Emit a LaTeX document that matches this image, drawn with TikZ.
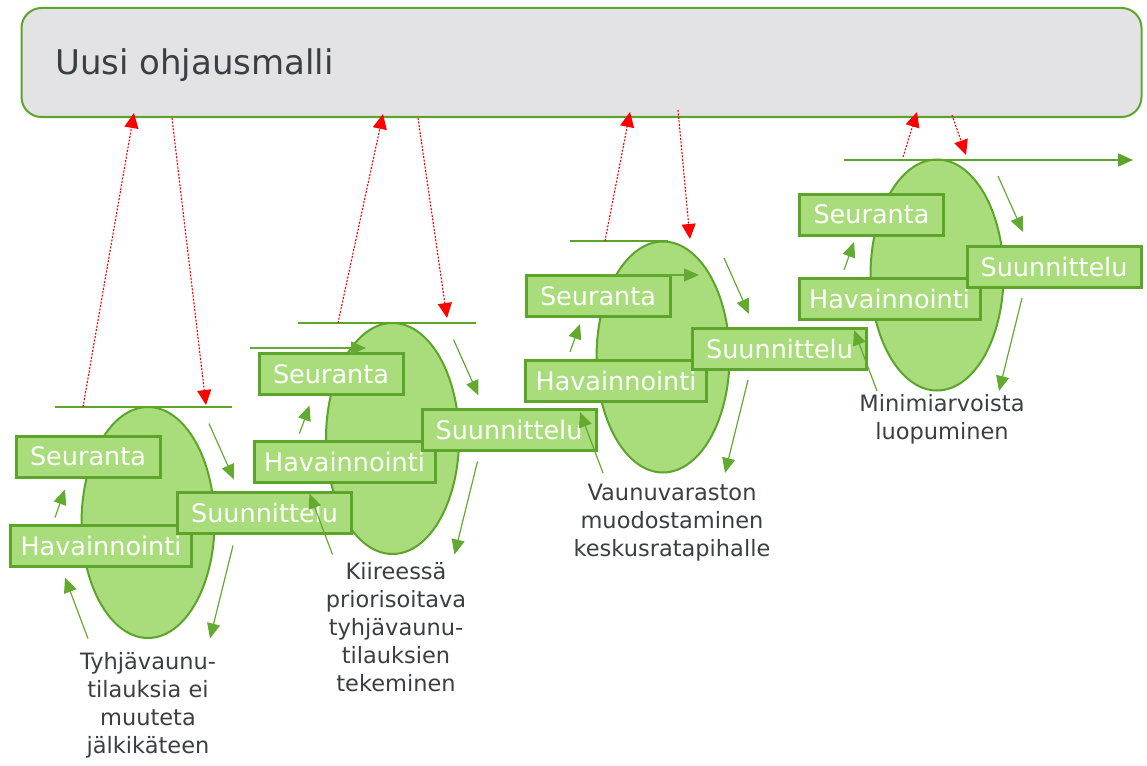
\documentclass[tikz,border=0pt]{standalone}
\usepackage{fontspec}
\setmainfont{DejaVu Sans}
\usetikzlibrary{shapes.geometric,arrows.meta}
\definecolor{gfill}{HTML}{A9DC7B}
\definecolor{gline}{HTML}{5CA52A}
\definecolor{garr}{HTML}{62AA30}
\definecolor{barfill}{HTML}{E3E3E5}
\definecolor{txt}{HTML}{3A3F44}
\definecolor{rred}{HTML}{FF0000}
\begin{document}
\begin{tikzpicture}[x=1pt,y=-1pt,
  cyc/.style={ellipse, draw=gline, fill=gfill, line width=2pt, minimum width=133pt, minimum height=231pt, inner sep=0pt},
  stagebox/.style={rectangle, draw=gline, fill=gfill, line width=3pt, text=white, font=\fontsize{25.5}{30}\selectfont, inner sep=0pt, minimum height=41pt},
  sbox/.style={stagebox, minimum width=144pt},
  hbox/.style={stagebox, minimum width=181pt},
  ubox/.style={stagebox, minimum width=174pt},
  tline/.style={gline, line width=2pt},
  garrow/.style={garr, line width=1.2pt, -{Triangle[length=15pt,width=13pt]}},
  rarrow/.style={rred, line width=1.1pt, dash pattern=on 2pt off 1.5pt, -{Triangle[length=15pt,width=14pt]}},
  lbl/.style={align=center, text=txt, font=\fontsize{22.5}{28}\selectfont, inner sep=0pt}
]
\path[use as bounding box] (0,0) rectangle (1147,765);

% top bar
\node[draw=gline, fill=barfill, rounded corners=20pt, line width=2pt, minimum width=1120pt, minimum height=109pt, inner sep=0pt] (bar) at (581.5,62.5) {};
\node[anchor=base west, inner sep=0pt, text=txt, font=\fontsize{34}{40}\selectfont] (title) at (55,75) {Uusi ohjausmalli};

% ellipses
\node[cyc] (e1) at (148,522.5) {};
\node[cyc] (e2) at (392.5,438.5) {};
\node[cyc] (e3) at (663,357) {};
\node[cyc] (e4) at (937,275) {};

% tangent lines
\coordinate (t1a) at (55,407);  \coordinate (t1b) at (232,407);
\coordinate (t2a) at (298,323); \coordinate (t2b) at (476,323);
\coordinate (t3a) at (570,241); \coordinate (t3b) at (668,241);
\coordinate (t4a) at (844,160); \coordinate (t4b) at (1133,160);
\draw[tline] (t1a) -- (t1b);
\draw[tline] (t2a) -- (t2b);
\draw[tline] (t3a) -- (t3b);
\draw[tline, -{Triangle[length=15pt,width=13pt]}] (t4a) -- (t4b);

% stage boxes
\node[sbox] (s1) at (88,456.5) {Seuranta};
\node[hbox] (h1) at (101,546) {Havainnointi};
\node[ubox] (u1) at (264.5,512.5) {Suunnittelu};
\node[sbox] (s2) at (331,374) {Seuranta};
\node[hbox] (h2) at (344.5,462) {Havainnointi};
\node[ubox] (u2) at (509,430) {Suunnittelu};
\node[sbox] (s3) at (598,296) {Seuranta};
\node[hbox] (h3) at (616,380.5) {Havainnointi};
\node[ubox] (u3) at (779.5,348.5) {Suunnittelu};
\node[sbox] (s4) at (871.5,214.5) {Seuranta};
\node[hbox] (h4) at (889.5,299) {Havainnointi};
\node[ubox] (u4) at (1054,266.5) {Suunnittelu};

% extra horizontal arrows
\coordinate (x2a) at (250,348); \coordinate (x2b) at (366,348);
\coordinate (x3a) at (600,275); \coordinate (x3b) at (699,275);
\draw[garrow] (x2a) -- (x2b);
\draw[garrow] (x3a) -- (x3b);

% cycle arrows relative to ellipses
\foreach \e in {e1,e2,e3,e4}{
  \draw[garrow] ([shift={(-60,116)}]\e.center) -- ([shift={(-83,55)}]\e.center);
  \draw[garrow] ([shift={(-93,-5)}]\e.center) -- ([shift={(-83,-33)}]\e.center);
  \draw[garrow] ([shift={(61,-99)}]\e.center) -- ([shift={(86,-43)}]\e.center);
  \draw[garrow] ([shift={(85,23)}]\e.center) -- ([shift={(62,116)}]\e.center);
}

% red dashed arrows between cycles and the bar
\coordinate (r1a) at (83,407);  \coordinate (r1b) at (134,113);
\coordinate (r1c) at (172,118); \coordinate (r1d) at (206,405);
\coordinate (r2a) at (338,323); \coordinate (r2b) at (383,114);
\coordinate (r2c) at (418,118); \coordinate (r2d) at (447,318);
\coordinate (r3a) at (605,241); \coordinate (r3b) at (630,112);
\coordinate (r3c) at (678,110); \coordinate (r3d) at (690,239);
\coordinate (r4a) at (903,157); \coordinate (r4b) at (917,112);
\coordinate (r4c) at (952,115); \coordinate (r4d) at (966,155);
\foreach \i in {1,2,3,4}{
  \draw[rarrow] (r\i a) -- (r\i b);
  \draw[rarrow] (r\i c) -- (r\i d);
}

% labels
\node[lbl] (l1) at (148,705) {Tyhjävaunu-\\tilauksia ei\\muuteta\\jälkikäteen};
\node[lbl] (l2) at (396,627.5) {Kiireessä\\priorisoitava\\tyhjävaunu-\\tilauksien\\tekeminen};
\node[lbl] (l3) at (672,523) {Vaunuvaraston\\muodostaminen\\keskusratapihalle};
\node[lbl] (l4) at (942,419) {Minimiarvoista\\luopuminen};
\end{tikzpicture}
\end{document}
